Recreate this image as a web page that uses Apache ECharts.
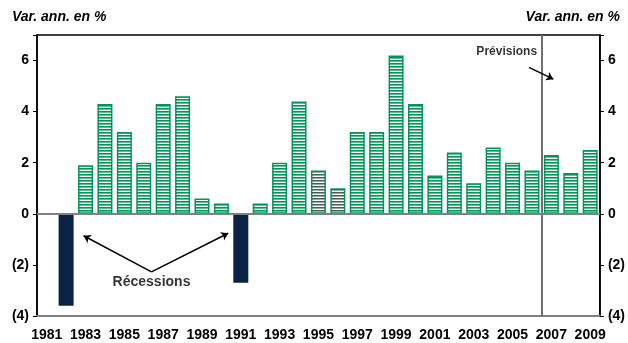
<!DOCTYPE html>
<html>
<head>
<meta charset="utf-8">
<script src="https://cdn.jsdelivr.net/npm/echarts@6/dist/echarts.min.js"></script>
<style>
  html, body { margin: 0; padding: 0; background: #fff; }
  #chart { width: 628px; height: 343px; }
</style>
</head>
<body>
<div id="chart"></div>
<script>
// Annual change (%), 1981-2009; 2007 onward are forecasts
const years = ['1981','1982','1983','1984','1985','1986','1987','1988','1989','1990',
  '1991','1992','1993','1994','1995','1996','1997','1998','1999','2000',
  '2001','2002','2003','2004','2005','2006','2007','2008','2009'];
const growth = [null, -3.6, 1.9, 4.3, 3.2, 2.0, 4.3, 4.6, 0.6, 0.4,
  -2.7, 0.4, 2.0, 4.4, 1.7, 1.0, 3.2, 3.2, 6.2, 4.3,
  1.5, 2.4, 1.2, 2.6, 2.0, 1.7, 2.3, 1.6, 2.5];
const recessionYears = ['1982', '1991'];
const shadedYears = ['1995', '1996'];
const forecastStart = '2007';
const yTicks = [-4, -2, 0, 2, 4, 6];

const FONT = 'Liberation Sans, Arial, sans-serif';
const GREEN = '#00945a';
const NAVY = '#0b2344';

function stripes(lineColor, midColor) {
  const c = document.createElement('canvas');
  c.width = 4; c.height = 3;
  const g = c.getContext('2d');
  g.fillStyle = '#ffffff'; g.fillRect(0, 0, 4, 3);
  g.fillStyle = lineColor; g.fillRect(0, 0, 4, 1);
  g.fillStyle = midColor; g.fillRect(0, 1, 4, 1);
  return { image: c, repeat: 'repeat' };
}
const greenFill = stripes(GREEN, '#5fbb92');
const greyFill = stripes('#4a5f53', '#98a89e');

const barData = growth.map((v, i) => {
  const y = years[i];
  let style;
  if (recessionYears.includes(y)) style = { color: NAVY, borderColor: NAVY, borderWidth: 0 };
  else if (shadedYears.includes(y)) style = { color: greyFill, borderColor: GREEN, borderWidth: 1.5 };
  else style = { color: greenFill, borderColor: GREEN, borderWidth: 1.5 };
  return { value: v, itemStyle: style };
});

const yMin = yTicks[0], yMax = 7;
const nCat = years.length;
const forecastEdge = years.indexOf(forecastStart);

const yLabel = v => (v === yMax ? '' : (v < 0 ? '(' + (-v) + ')' : String(v)));
const yAxisBase = {
  type: 'value', min: yMin, max: yMax, interval: 2,
  axisLine: { show: true, lineStyle: { color: '#000', width: 1.5 } },
  axisTick: { show: true, length: 4, lineStyle: { color: '#000', width: 1 } },
  splitLine: { show: false },
  axisLabel: { formatter: yLabel, color: '#000', fontFamily: FONT, fontWeight: 'bold', fontSize: 14, margin: 8 }
};
const titleStyle = { fontFamily: FONT, fontSize: 14, fontWeight: 'bold', fontStyle: 'italic', color: '#000' };

const chart = echarts.init(document.getElementById('chart'), null, { renderer: 'canvas' });
chart.setOption({
  animation: false,
  backgroundColor: '#fff',
  title: [
    { text: 'Var. ann. en %', left: 7, top: 5, textStyle: titleStyle },
    { text: 'Var. ann. en %', right: 3, top: 5, textStyle: titleStyle }
  ],
  grid: { left: 37, right: 25, top: 35, bottom: 27, show: true, borderColor: '#000', borderWidth: 1.5, backgroundColor: 'transparent' },
  xAxis: [
    { type: 'category', data: years, position: 'bottom',
      axisLine: { onZero: false, lineStyle: { color: '#808080', width: 2 } },
      axisTick: { show: false },
      axisLabel: { interval: 1, color: '#000', fontFamily: FONT, fontWeight: 'bold', fontSize: 14, margin: 12 } },
    { type: 'value', min: 0, max: nCat, show: false }
  ],
  yAxis: [
    Object.assign({ position: 'left' }, yAxisBase),
    Object.assign({ position: 'right' }, yAxisBase)
  ],
  series: [
    { type: 'bar', data: barData, barWidth: 15, z: 3,
      markLine: { silent: true, symbol: 'none', label: { show: false },
        lineStyle: { color: '#808080', width: 2, type: 'solid' }, data: [{ yAxis: 0 }] } },
    // forecast divider
    { type: 'lines', coordinateSystem: 'cartesian2d', xAxisIndex: 1, yAxisIndex: 0, z: 4,
      lineStyle: { color: '#707070', width: 2, opacity: 1 },
      data: [{ coords: [[forecastEdge, yMin], [forecastEdge, yMax]] }] },
    // annotation arrows
    { type: 'lines', coordinateSystem: 'cartesian2d', xAxisIndex: 1, yAxisIndex: 0, z: 5,
      symbol: ['none', 'arrow'], symbolSize: 7,
      lineStyle: { color: '#000', width: 1.5, opacity: 1 },
      data: [
        { coords: [[5.9, -2.27], [2.4, -0.86]] },
        { coords: [[5.9, -2.27], [9.85, -0.76]] },
        { coords: [[25.35, 5.73], [26.6, 5.27]] }
      ] },
    // annotation labels
    { type: 'scatter', xAxisIndex: 1, yAxisIndex: 0, symbolSize: 0, z: 6, silent: true,
      label: { show: true, position: 'inside', formatter: p => p.name,
        color: '#000', fontFamily: FONT, fontWeight: 'bold' },
      data: [
        { name: 'Récessions', value: [5.9, -2.67], label: { fontSize: 14 } },
        { name: 'Prévisions', value: [24.2, 6.33], label: { fontSize: 12 } }
      ] }
  ]
});
</script>
</body>
</html>
